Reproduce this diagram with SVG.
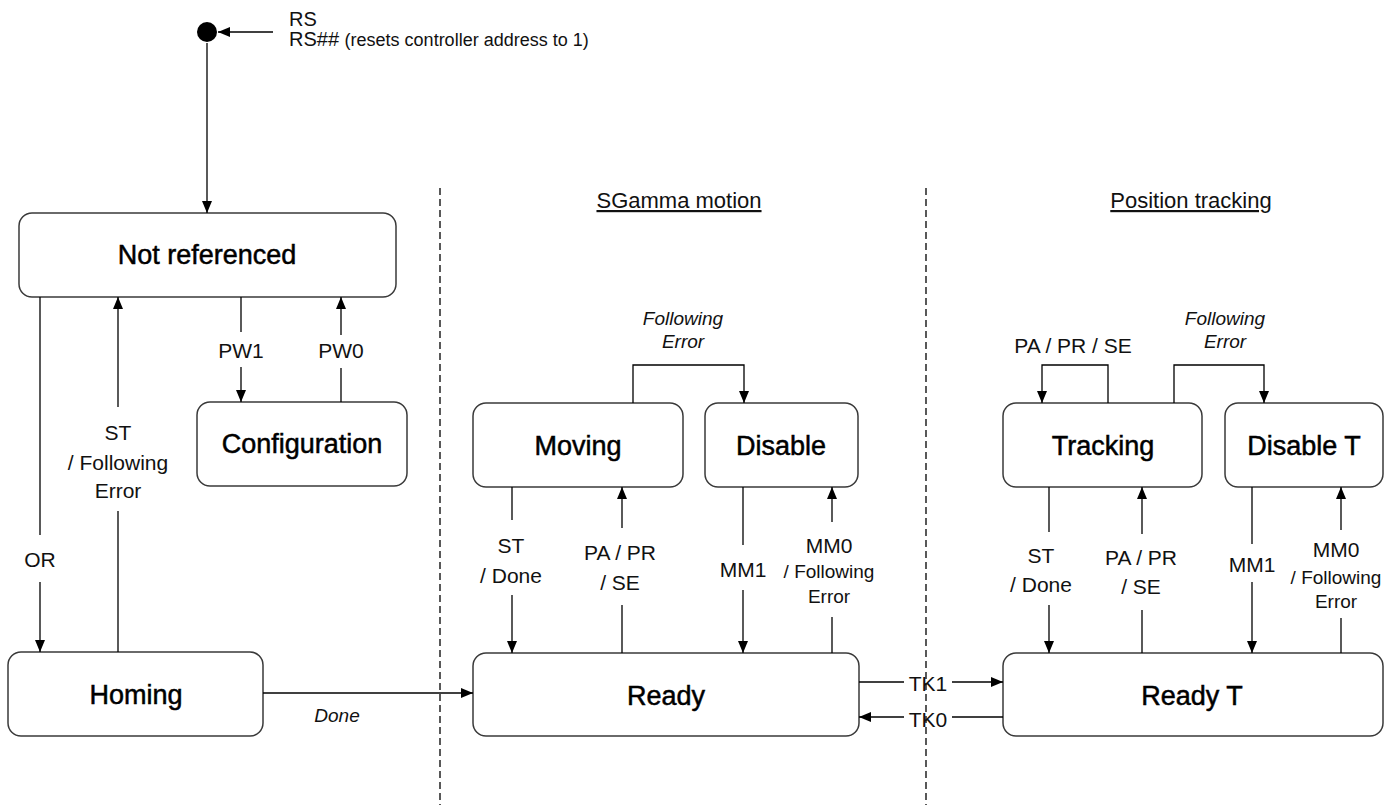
<svg xmlns="http://www.w3.org/2000/svg" width="1396" height="805" viewBox="0 0 1396 805">
<style>
  .box { fill: #ffffff; stroke: #3a3a3a; stroke-width: 1.5; }
  .title { font-family: "Liberation Sans", Arial, sans-serif; font-size: 27px; fill: #000; stroke: #000; stroke-width: 0.5; text-anchor: middle; }
  .lbl { font-family: "Liberation Sans", Arial, sans-serif; font-size: 21px; fill: #111; text-anchor: middle; }
  .sm { font-size: 19px; }
  .it { font-style: italic; font-size: 19px; }
  .hdr { font-family: "Liberation Sans", Arial, sans-serif; font-size: 22px; fill: #111; text-anchor: middle; text-decoration: underline; }
  .ln { fill: none; stroke: #000; stroke-width: 1.3; }
  .arr { fill: none; stroke: #000; stroke-width: 1.3; marker-end: url(#ah); }
  .dash { fill: none; stroke: #000; stroke-width: 1.3; stroke-dasharray: 7 4; }
</style>
<defs>
  <marker id="ah" viewBox="0 0 12 10" refX="12" refY="5" markerWidth="12" markerHeight="10" markerUnits="userSpaceOnUse" orient="auto">
    <path d="M0,0 L12,5 L0,10 z" fill="#000"/>
  </marker>
</defs>
<rect x="0" y="0" width="1396" height="805" fill="#ffffff"/>

<!-- region separators and headers -->
<g id="separators">
  <line class="dash" x1="440" y1="188" x2="440" y2="805"/>
  <line class="dash" x1="926" y1="188" x2="926" y2="805"/>
  <text class="hdr" x="679" y="208">SGamma motion</text>
  <text class="hdr" x="1191" y="208">Position tracking</text>
</g>

<!-- nodes -->
<g id="initial">
  <circle cx="207" cy="32" r="10" fill="#000"/>
</g>
<g id="not-referenced">
  <rect class="box" x="19" y="213" width="377" height="84" rx="13"/>
  <text class="title" x="207" y="264">Not referenced</text>
</g>
<g id="configuration">
  <rect class="box" x="197" y="402" width="210" height="84" rx="13"/>
  <text class="title" x="302" y="453">Configuration</text>
</g>
<g id="homing">
  <rect class="box" x="8" y="652" width="255" height="84" rx="13"/>
  <text class="title" x="136" y="704">Homing</text>
</g>
<g id="moving">
  <rect class="box" x="473" y="403" width="210" height="84" rx="13"/>
  <text class="title" x="578" y="455">Moving</text>
</g>
<g id="disable">
  <rect class="box" x="705" y="403" width="153" height="84" rx="13"/>
  <text class="title" x="781" y="455">Disable</text>
</g>
<g id="ready">
  <rect class="box" x="473" y="653" width="386" height="83" rx="13"/>
  <text class="title" x="666" y="705">Ready</text>
</g>
<g id="tracking">
  <rect class="box" x="1003" y="403" width="199" height="84" rx="13"/>
  <text class="title" x="1103" y="455">Tracking</text>
</g>
<g id="disable-t">
  <rect class="box" x="1225" y="403" width="158" height="84" rx="13"/>
  <text class="title" x="1304" y="455">Disable T</text>
</g>
<g id="ready-t">
  <rect class="box" x="1003" y="653" width="380" height="83" rx="13"/>
  <text class="title" x="1192" y="705">Ready T</text>
</g>

<!-- connectors -->
<g id="connectors">
  <!-- reset into initial -->
  <line class="arr" x1="273" y1="32" x2="218" y2="32"/>
  <text class="lbl" x="289" y="26" style="text-anchor:start;font-size:20px">RS</text>
  <text class="lbl" x="289" y="46" style="text-anchor:start;font-size:20px">RS## <tspan style="font-size:18px">(resets controller address to 1)</tspan></text>
  <!-- initial to Not referenced -->
  <line class="arr" x1="207" y1="43" x2="207" y2="213"/>

  <!-- Not referenced -> Homing (OR) -->
  <line class="ln" x1="40" y1="297" x2="40" y2="535"/>
  <line class="arr" x1="40" y1="582" x2="40" y2="652"/>
  <text class="lbl" x="40" y="567">OR</text>

  <!-- Homing -> Not referenced (ST / Following Error) -->
  <line class="ln" x1="118" y1="652" x2="118" y2="511"/>
  <line class="arr" x1="118" y1="407" x2="118" y2="297"/>
  <text class="lbl" x="118" y="440">ST</text>
  <text class="lbl" x="118" y="470">/ Following</text>
  <text class="lbl" x="118" y="498">Error</text>

  <!-- PW1 / PW0 -->
  <line class="ln" x1="241" y1="297" x2="241" y2="332"/>
  <line class="arr" x1="241" y1="367" x2="241" y2="402"/>
  <text class="lbl" x="241" y="358">PW1</text>
  <line class="ln" x1="341" y1="402" x2="341" y2="368"/>
  <line class="arr" x1="341" y1="335" x2="341" y2="297"/>
  <text class="lbl" x="341" y="358">PW0</text>

  <!-- Homing -> Ready (Done) -->
  <line class="arr" x1="263" y1="693" x2="473" y2="693"/>
  <text class="lbl it" x="337" y="722">Done</text>

  <!-- Moving -> Disable (Following Error) -->
  <polyline class="arr" points="633,403 633,365 744,365 744,403"/>
  <text class="lbl it" x="683" y="325">Following</text>
  <text class="lbl it" x="683" y="348">Error</text>

  <!-- Moving <-> Ready -->
  <line class="ln" x1="512" y1="487" x2="512" y2="520"/>
  <line class="arr" x1="512" y1="595" x2="512" y2="653"/>
  <text class="lbl" x="511" y="553">ST</text>
  <text class="lbl" x="511" y="583">/ Done</text>

  <line class="ln" x1="622" y1="653" x2="622" y2="605"/>
  <line class="arr" x1="622" y1="528" x2="622" y2="487"/>
  <text class="lbl" x="620" y="560">PA / PR</text>
  <text class="lbl" x="620" y="590">/ SE</text>

  <!-- Disable <-> Ready -->
  <line class="ln" x1="743" y1="487" x2="743" y2="545"/>
  <line class="arr" x1="743" y1="590" x2="743" y2="653"/>
  <text class="lbl" x="743" y="577">MM1</text>

  <line class="ln" x1="832" y1="653" x2="832" y2="617"/>
  <line class="arr" x1="832" y1="522" x2="832" y2="487"/>
  <text class="lbl" x="829" y="553">MM0</text>
  <text class="lbl sm" x="829" y="578">/ Following</text>
  <text class="lbl sm" x="829" y="603">Error</text>

  <!-- Ready <-> Ready T -->
  <line class="ln" x1="859" y1="682" x2="904" y2="682"/>
  <line class="arr" x1="952" y1="682" x2="1003" y2="682"/>
  <text class="lbl" x="928" y="691">TK1</text>
  <line class="ln" x1="1003" y1="717" x2="952" y2="717"/>
  <line class="arr" x1="904" y1="717" x2="859" y2="717"/>
  <text class="lbl" x="928" y="727">TK0</text>

  <!-- Tracking self loop -->
  <polyline class="arr" points="1108,403 1108,365 1042,365 1042,403"/>
  <text class="lbl" x="1073" y="353">PA / PR / SE</text>

  <!-- Tracking -> Disable T -->
  <polyline class="arr" points="1174,403 1174,365 1264,365 1264,403"/>
  <text class="lbl it" x="1225" y="325">Following</text>
  <text class="lbl it" x="1225" y="348">Error</text>

  <!-- Tracking <-> Ready T -->
  <line class="ln" x1="1049" y1="487" x2="1049" y2="532"/>
  <line class="arr" x1="1049" y1="605" x2="1049" y2="653"/>
  <text class="lbl" x="1041" y="563">ST</text>
  <text class="lbl" x="1041" y="592">/ Done</text>

  <line class="ln" x1="1142" y1="653" x2="1142" y2="610"/>
  <line class="arr" x1="1142" y1="534" x2="1142" y2="487"/>
  <text class="lbl" x="1141" y="565">PA / PR</text>
  <text class="lbl" x="1141" y="594">/ SE</text>

  <!-- Disable T <-> Ready T -->
  <line class="ln" x1="1252" y1="487" x2="1252" y2="544"/>
  <line class="arr" x1="1252" y1="582" x2="1252" y2="653"/>
  <text class="lbl" x="1252" y="572">MM1</text>

  <line class="ln" x1="1341" y1="653" x2="1341" y2="618"/>
  <line class="arr" x1="1341" y1="530" x2="1341" y2="487"/>
  <text class="lbl" x="1336" y="557">MM0</text>
  <text class="lbl sm" x="1336" y="584">/ Following</text>
  <text class="lbl sm" x="1336" y="608">Error</text>
</g>
</svg>
